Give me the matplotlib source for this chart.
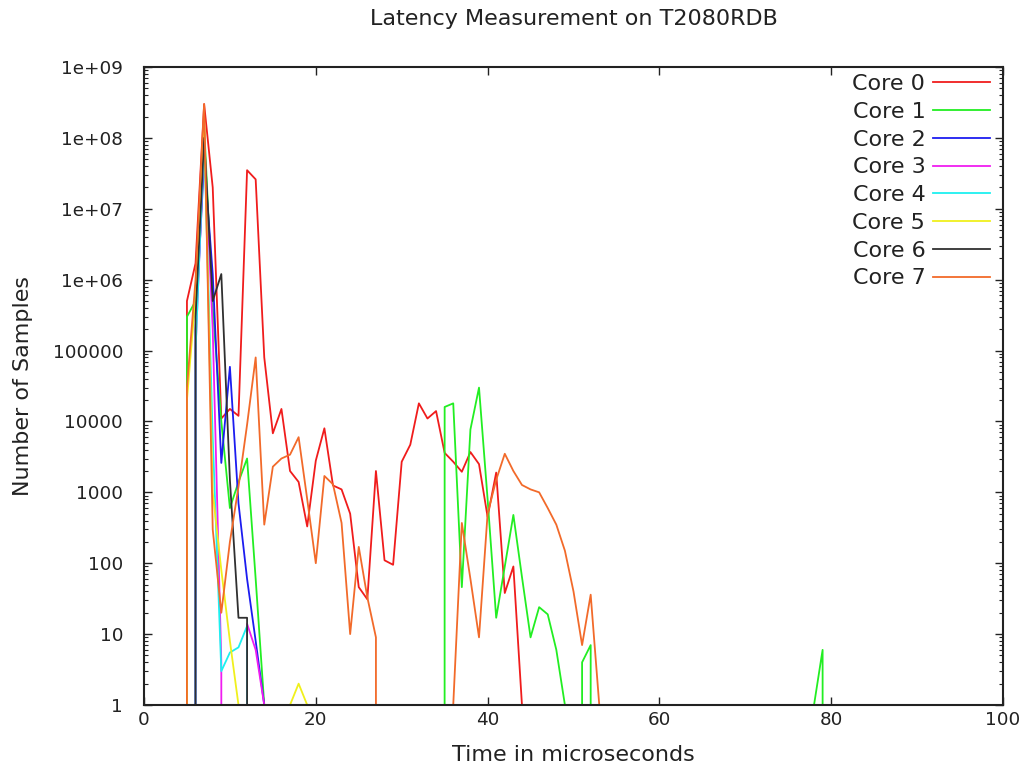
import numpy as np
import matplotlib
matplotlib.use("Agg")
import matplotlib.pyplot as plt
from matplotlib.ticker import LogLocator, FixedLocator, NullFormatter, FixedFormatter

# Latency histogram per core: sample counts per 1-microsecond bin.
# Each segment is (first bin, counts); a zero count has no point on the log axis.
CORE0 = [(4, [0, 5e5, 1.7e6, 3e8, 2e7, 1.1e4, 1.5e4, 1.2e4, 3.5e7, 2.6e7, 8e4,
              6800, 1.5e4, 2000, 1400, 330, 2800, 8000, 1250, 1100, 500, 46, 31,
              2000, 110, 95, 2700, 4700, 1.8e4, 1.1e4, 1.4e4, 3600, 2700, 1950,
              3700, 2500, 450, 1900, 38, 90, 1, 0])]

CORE1 = [(4, [0, 3e5, 5e5, 1.5e8, 4e5, 1e4, 600, 1400, 3000, 60, 1, 0]),
         (34, [0, 1.6e4, 1.8e4, 46, 7700, 3e4, 800, 17, 90, 480, 64, 9, 24,
               19, 6, 1, 0, 4, 7, 0]),
         (77, [0, 1, 6, 0])]

CORE2 = [(5, [0, 2e5, 5e7, 1.2e6, 2600, 5.9e4, 700, 60, 8, 1, 0])]

CORE3 = [(5, [0, 1e5, 1e8, 2e5, 4, 0, 0, 14, 6, 1, 0])]

CORE4 = [(5, [0, 1e5, 1e8, 6000, 3, 5.5, 6.5, 13, 0])]

CORE5 = [(4, [0, 2e4, 6e5, 2e8, 1000, 80, 8, 1, 0]),
         (16, [0, 1, 2, 1, 0])]

CORE6 = [(5, [0, 3e5, 1e8, 5e5, 1.2e6, 1500, 17, 17, 0])]

CORE7 = [(4, [0, 3e4, 1e6, 3e8, 300, 20, 200, 1200, 9000, 8e4, 350, 2300, 3000,
              3400, 6000, 800, 100, 1700, 1300, 370, 10, 170, 33, 9, 0]),
         (35, [0, 1, 370, 60, 9, 500, 1500, 3500, 2000, 1270, 1100, 1000, 600,
               350, 150, 40, 7, 36, 1, 0])]

LABELS = ["Core 0", "Core 1", "Core 2", "Core 3",
          "Core 4", "Core 5", "Core 6", "Core 7"]
COLORS = ["#f01c1c", "#22ee22", "#1c1cf0", "#f01cf0",
          "#1cf0f0", "#f0f01c", "#303030", "#f26a2a"]

X_TICKS = [0, 20, 40, 60, 80, 100]
Y_TICKS = [1, 10, 100, 1000, 10000, 100000, 1e6, 1e7, 1e8, 1e9]
Y_TICK_LABELS = ["1", "10", "100", "1000", "10000", "100000",
                 "1e+06", "1e+07", "1e+08", "1e+09"]

TITLE = "Latency Measurement on T2080RDB"
XLABEL = "Time in microseconds"
YLABEL = "Number of Samples"

plt.rcParams["font.family"] = ["DejaVu Sans"]
FS = 16
TICK_FS = 13.2
INK = "#222222"

W, H = 1033, 767
L, R, T, B = 144, 1003, 67, 705

fig = plt.figure(figsize=(W / 100, H / 100), dpi=100)
ax = fig.add_axes([L / W, 1 - B / H, (R - L) / W, (B - T) / H])

series = [CORE0, CORE1, CORE2, CORE3, CORE4, CORE5, CORE6, CORE7]

ax.set_yscale("log", nonpositive="clip")
for parts, label, color in zip(series, LABELS, COLORS):
    for i, (start, vals) in enumerate(parts):
        x = np.arange(start, start + len(vals))
        ax.plot(x, vals, color=color, lw=1.3,
                label=label if i == 0 else None)

ax.set_xlim(0, 100)
ax.set_ylim(1, 1e9)

ax.xaxis.set_major_locator(FixedLocator(X_TICKS))
ax.set_xticklabels([str(t) for t in X_TICKS])
ax.yaxis.set_major_locator(FixedLocator(Y_TICKS))
ax.yaxis.set_major_formatter(FixedFormatter(Y_TICK_LABELS))
ax.yaxis.set_minor_locator(LogLocator(base=10, subs=np.arange(2, 10), numticks=20))
ax.yaxis.set_minor_formatter(NullFormatter())

ax.tick_params(axis="both", which="major", direction="in", length=6, width=1,
               top=True, right=True, labelsize=TICK_FS, colors=INK)
ax.tick_params(axis="x", which="major", pad=4.5)
ax.tick_params(axis="y", which="major", pad=15)
ax.tick_params(axis="both", which="minor", direction="in", length=3, width=0.8,
               top=True, right=True, colors=INK)
for s in ax.spines.values():
    s.set_linewidth(1.5)
    s.set_color(INK)

ax.set_title(TITLE, fontsize=FS, pad=30, color=INK)
ax.set_xlabel(XLABEL, fontsize=FS, labelpad=11, color=INK)
ax.set_ylabel(YLABEL, fontsize=FS, labelpad=14, color=INK)

# legend anchored so the sample lines end near the right border
anchor = ((990 - L) / (R - L), (B - 74) / (B - T))
leg = ax.legend(loc="upper right", bbox_to_anchor=anchor, frameon=False,
                markerfirst=False, fontsize=FS, handlelength=2.55,
                handletextpad=0.36, labelspacing=0.35,
                borderaxespad=0.0, borderpad=0.0)
for t in leg.get_texts():
    t.set_color(INK)

fig.savefig("out.png", dpi=100, facecolor="white")
